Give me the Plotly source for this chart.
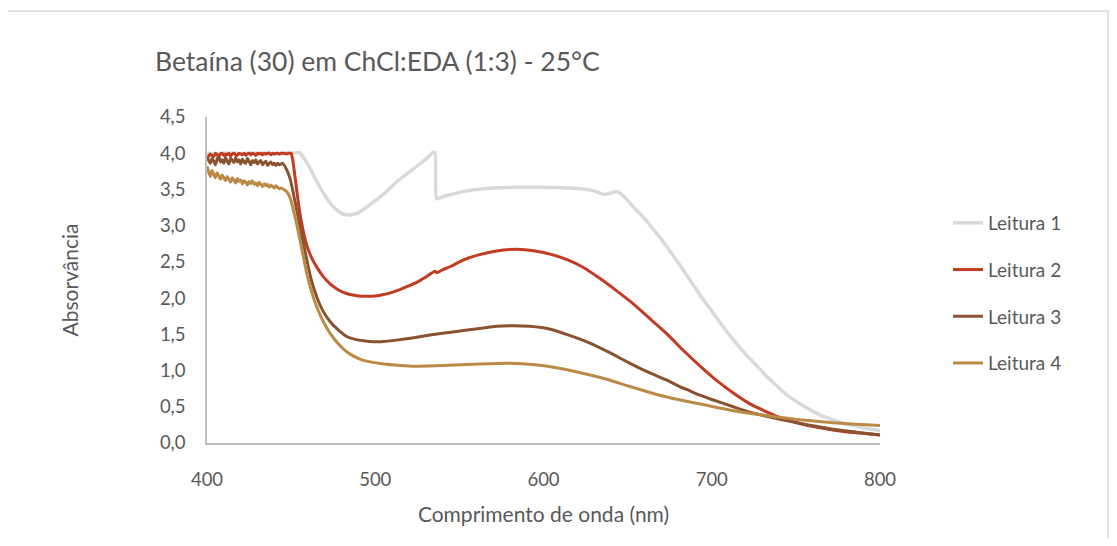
import plotly.graph_objects as go

# ---------------- data ----------------
wl_1 = [400, 405, 410, 415, 420, 425, 430, 435, 440, 445, 450, 455, 457, 461, 465, 470, 475,
        480, 483, 486, 490, 494, 498, 503, 508, 513, 518, 523, 528, 532, 534, 535.5, 536.5,
        540, 545, 552, 560, 570, 584, 600, 614, 622, 630, 636, 640, 644, 648, 653, 660, 667,
        673, 680, 687, 694, 700, 706, 713, 720, 727, 733, 740, 746, 752, 760, 766, 772, 780,
        790, 800]
abs_1 = [4.00, 3.99, 4.00, 4.00, 3.99, 4.00, 4.00, 4.00, 3.99, 4.00, 4.00, 4.01, 3.95, 3.80,
         3.62, 3.42, 3.26, 3.17, 3.15, 3.15, 3.18, 3.24, 3.31, 3.40, 3.50, 3.61, 3.70, 3.79,
         3.88, 3.96, 4.01, 4.01, 3.37, 3.40, 3.43, 3.47, 3.50, 3.52, 3.53, 3.53, 3.52, 3.51,
         3.48, 3.43, 3.45, 3.47, 3.40, 3.27, 3.10, 2.90, 2.72, 2.49, 2.25, 2.01, 1.82, 1.63,
         1.42, 1.23, 1.06, 0.91, 0.76, 0.64, 0.55, 0.44, 0.37, 0.32, 0.26, 0.21, 0.17]

wl_2 = list(range(400, 451)) + [451, 453, 455, 457, 459, 461, 463, 466, 469, 473, 477, 481,
        485, 490, 495, 500, 505, 510, 515, 520, 525, 530, 535.5, 536.5, 540, 545, 550, 555,
        562, 572, 584, 595, 605, 614, 624, 633.6, 643.5, 653.4, 663, 673.2, 683, 693.6, 703,
        712.8, 722, 732.6, 742, 752.5, 762, 772, 786, 800]
abs_2 = [3.93, 3.96, 3.99, 3.97, 3.95, 4.00, 3.98, 3.96, 3.99, 4.00,
         3.97, 3.99, 3.98, 4.00, 3.96, 3.99, 4.00, 3.98, 3.97, 4.00,
         3.99, 3.98, 4.00, 3.97, 3.99, 4.00, 3.98, 4.00, 3.99, 3.97,
         4.00, 3.99, 4.00, 3.98, 4.00, 3.99, 4.00, 4.00, 3.98, 4.00,
         3.99, 4.00, 4.00, 3.99, 4.00, 4.00, 4.00, 3.99, 4.00, 4.00,
         4.00,
         3.90, 3.55, 3.20, 2.95, 2.75, 2.62, 2.52, 2.40, 2.30, 2.20, 2.13, 2.08,
         2.05, 2.03, 2.025, 2.03, 2.05, 2.08, 2.12, 2.17, 2.22, 2.29, 2.37, 2.35, 2.39, 2.44,
         2.50, 2.55, 2.60, 2.65, 2.675, 2.65, 2.60, 2.53, 2.42, 2.27, 2.10, 1.92, 1.72, 1.51,
         1.28, 1.05, 0.86, 0.69, 0.55, 0.43, 0.34, 0.27, 0.22, 0.18, 0.14, 0.11]

wl_3 = list(range(400, 446)) + [447.4, 449.5, 451.3, 453.3, 455.3, 457.3, 459.3, 462, 465.2,
        469, 473, 478, 483, 488, 493, 497, 505, 512.7, 522, 532.5, 545, 562, 572, 582, 592,
        604, 615, 627.6, 640, 648, 657.4, 665, 673, 680, 687, 693, 700, 712.8, 722, 732.6,
        742, 752.5, 762, 772, 786, 800]
abs_3 = [3.95, 3.90, 3.86, 3.93, 3.89, 3.84, 3.92, 3.96, 3.88, 3.91,
         3.86, 3.94, 3.89, 3.85, 3.93, 3.90, 3.87, 3.94, 3.88, 3.91,
         3.85, 3.92, 3.88, 3.86, 3.93, 3.89, 3.84, 3.90, 3.87, 3.91,
         3.85, 3.88, 3.90, 3.84, 3.87, 3.89, 3.83, 3.86, 3.88, 3.84,
         3.86, 3.83, 3.86, 3.84, 3.85, 3.86,
         3.77, 3.64, 3.45, 3.22, 2.99, 2.76, 2.53, 2.25, 2.02, 1.82, 1.68, 1.56, 1.47,
         1.43, 1.41, 1.40, 1.40, 1.42, 1.45, 1.49, 1.53, 1.58, 1.61, 1.62, 1.61, 1.57,
         1.49, 1.38, 1.24, 1.14, 1.03, 0.95, 0.87, 0.79, 0.72, 0.66, 0.60, 0.50, 0.43, 0.37,
         0.32, 0.27, 0.23, 0.19, 0.15, 0.11]

wl_4 = list(range(400, 445)) + [447.4, 449.5, 451.3, 453.3, 455.3, 457.3, 459.3, 462, 465.2,
        469, 473, 478, 483, 488, 493, 497, 505, 515, 522.7, 540, 562, 580, 595, 607.8, 620,
        637.6, 650, 667.3, 680, 697, 716.8, 735, 752.5, 772, 786, 800]
abs_4 = [3.82, 3.74, 3.68, 3.76, 3.71, 3.66, 3.73, 3.69, 3.64, 3.70,
         3.66, 3.62, 3.68, 3.64, 3.60, 3.66, 3.63, 3.59, 3.65, 3.61,
         3.63, 3.58, 3.62, 3.60, 3.56, 3.61, 3.58, 3.62, 3.57, 3.59,
         3.55, 3.60, 3.57, 3.54, 3.58, 3.55, 3.57, 3.53, 3.56, 3.54,
         3.52, 3.55, 3.53, 3.51, 3.52,
         3.47, 3.38, 3.22, 3.02, 2.80, 2.57, 2.34, 2.10, 1.88, 1.68, 1.52, 1.37, 1.26,
         1.19, 1.14, 1.12, 1.09, 1.07, 1.06, 1.07, 1.09, 1.10, 1.08, 1.04, 0.98,
         0.88, 0.79, 0.67, 0.60, 0.52, 0.43, 0.37, 0.32, 0.28, 0.26, 0.24]

series_names = ["Leitura 1", "Leitura 2", "Leitura 3", "Leitura 4"]
series_colors = ["#D9D9D9", "#C23B22", "#8A5330", "#BC8A47"]
x_ticks = [400, 500, 600, 700, 800]
title_text = "Betaína (30) em ChCl:EDA (1:3) - 25°C"
x_title = "Comprimento de onda (nm)"
y_title = "Absorvância"

FONT = "Lato"
GREY_TXT = "#595959"

fig = go.Figure()
for i, (wl, ab) in enumerate([(wl_1, abs_1), (wl_2, abs_2), (wl_3, abs_3), (wl_4, abs_4)]):
    fig.add_trace(go.Scatter(
        x=wl, y=ab, mode="lines", name=series_names[i],
        legendgroup=f"g{i}",
        line=dict(color=series_colors[i], width=3.5 if i == 0 else 3,
                  shape="spline", smoothing=0.5),
    ))

OFF = 8  # page body margin
W, H = 1117 - 2 * OFF, 546 - 2 * OFF
PL, PR, PT, PB = 207 - OFF, 880 - OFF, 117 - OFF, 443 - OFF  # plot area in figure px
L, R, T, B = PL, W - PR, PT, H - PB
pw, ph = PR - PL, PB - PT

def px_x(ref_px):
    return (ref_px - OFF - PL) / pw

def px_y(ref_py):
    return (PB - (ref_py - OFF)) / ph

fig.update_layout(
    width=W, height=H,
    separators=",.",
    paper_bgcolor="white", plot_bgcolor="white",
    margin=dict(l=L, r=R, t=T, b=B),
    title=dict(text=title_text, x=(155 - OFF) / W, xanchor="left",
               y=1 - (62 - OFF) / H, yanchor="middle",
               font=dict(family=FONT, size=26.5, color=GREY_TXT)),
    xaxis=dict(range=[400, 800], tickvals=x_ticks, showgrid=False, zeroline=False,
               showline=True, linecolor="#BFBFBF", linewidth=1.5, ticks="",
               ticklabelstandoff=19,
               tickfont=dict(family=FONT, size=18.5, color=GREY_TXT),
               title=dict(text=x_title, standoff=18,
                          font=dict(family=FONT, size=21, color=GREY_TXT))),
    yaxis=dict(range=[0, 4.5], dtick=0.5, tick0=0, tickformat=".1f", showgrid=False,
               zeroline=False, showline=True, linecolor="#BFBFBF", linewidth=1.5, ticks="",
               ticklabelstandoff=16,
               tickfont=dict(family=FONT, size=18.5, color=GREY_TXT),
               title=dict(text=y_title, standoff=76,
                          font=dict(family=FONT, size=21, color=GREY_TXT))),
    legend=dict(x=px_x(948), xanchor="left", y=px_y(204), yanchor="top",
                traceorder="grouped", tracegroupgap=19,
                font=dict(family=FONT, size=19, color=GREY_TXT),
                bgcolor="rgba(0,0,0,0)"),
    showlegend=True,
)

fig.add_shape(type="rect", xref="paper", yref="paper",
              x0=px_x(5), x1=px_x(1108), y0=px_y(560), y1=px_y(11),
              line=dict(color="#D9D9D9", width=1.5), fillcolor="rgba(0,0,0,0)", layer="below")

fig.write_html("out.html")
